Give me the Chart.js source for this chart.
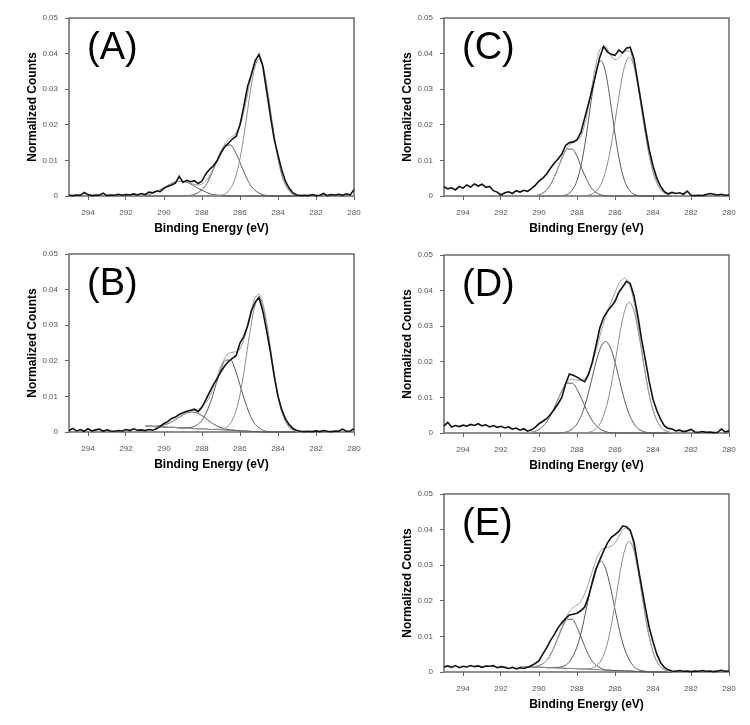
<!DOCTYPE html>
<html>
<head>
<meta charset="utf-8">
<script src="https://cdn.jsdelivr.net/npm/chart.js@4.4.0/dist/chart.umd.min.js"></script>
<style>
  body { margin: 0; background: #fff; }
  #wrap { position: relative; width: 750px; height: 725px; }
  canvas { position: absolute; }
</style>
</head>
<body>
<div id="wrap">
  <canvas id="cA" width="375" height="238" style="left:0;top:0"></canvas>
  <canvas id="cB" width="375" height="238" style="left:0;top:236px"></canvas>
  <canvas id="cC" width="375" height="238" style="left:375px;top:0"></canvas>
  <canvas id="cD" width="375" height="238" style="left:375px;top:237px"></canvas>
  <canvas id="cE" width="375" height="238" style="left:375px;top:476px"></canvas>
</div>
<script>
// binding energy grid of the measured spectra (eV)
const rawEnergy = [
  295.0, 294.8, 294.6, 294.4, 294.2, 294.0, 293.8, 293.6, 293.4, 293.2,
  293.0, 292.8, 292.6, 292.4, 292.2, 292.0, 291.8, 291.6, 291.4, 291.2,
  291.0, 290.8, 290.6, 290.4, 290.2, 290.0, 289.8, 289.6, 289.4, 289.2,
  289.0, 288.8, 288.6, 288.4, 288.2, 288.0, 287.8, 287.6, 287.4, 287.2,
  287.0, 286.8, 286.6, 286.4, 286.2, 286.0, 285.8, 285.6, 285.4, 285.2,
  285.0, 284.8, 284.6, 284.4, 284.2, 284.0, 283.8, 283.6, 283.4, 283.2,
  283.0, 282.8, 282.6, 282.4, 282.2, 282.0, 281.8, 281.6, 281.4, 281.2,
  281.0, 280.8, 280.6, 280.4, 280.2, 280.0
];

// grid of the fitted components (eV)
const fitEnergy = [
  291.0, 290.75, 290.5, 290.25, 290.0, 289.75, 289.5, 289.25, 289.0, 288.75,
  288.5, 288.25, 288.0, 287.75, 287.5, 287.25, 287.0, 286.75, 286.5, 286.25,
  286.0, 285.75, 285.5, 285.25, 285.0, 284.75, 284.5, 284.25, 284.0, 283.75,
  283.5, 283.25, 283.0
];

const xTicks = [294, 292, 290, 288, 286, 284, 282, 280];
const yTicks = [0, 0.01, 0.02, 0.03, 0.04, 0.05];

// ---- (A)
const rawA = [
  0.0002, 0.0001, 0.0003, 0.0002, 0.0010, 0.0004, 0.0001, 0.0003, 0.0002, 0.0008,
  0.0001, 0.0003, 0.0002, 0.0005, 0.0002, 0.0004, 0.0003, 0.0006, 0.0003, 0.0007,
  0.0004, 0.0011, 0.0009, 0.0014, 0.0012, 0.0022, 0.0027, 0.0031, 0.0036, 0.0055,
  0.0038, 0.0044, 0.0040, 0.0043, 0.0035, 0.0042, 0.0062, 0.0075, 0.0085, 0.0099,
  0.0121, 0.0138, 0.0149, 0.0160, 0.0168, 0.0200, 0.0252, 0.0308, 0.0342, 0.0380,
  0.0398, 0.0365, 0.0295, 0.0225, 0.0160, 0.0115, 0.0072, 0.0040, 0.0021, 0.0008,
  0.0003, 0.0001, 0.0002, 0.0001, 0.0004, 0.0001, 0.0002, 0.0007, 0.0001, 0.0004,
  0.0003, 0.0005, 0.0002, 0.0006, 0.0003, 0.0018
];
const fitA1 = [0, 0, 0, 0, 0, 0, 0, 0, 0, 0, 0, 0, 0, 0, 0,
  0.0001, 0.0002, 0.0007, 0.0021, 0.0050, 0.0105, 0.0185, 0.0278, 0.0355, 0.0385,
  0.0355, 0.0278, 0.0185, 0.0105, 0.0050, 0.0021, 0.0007, 0.0002];
const fitA2 = [0, 0, 0, 0, 0, 0, 0, 0, 0,
  0.0001, 0.0003, 0.0008, 0.0018, 0.0035, 0.0062, 0.0094, 0.0124, 0.0143, 0.0143,
  0.0124, 0.0094, 0.0062, 0.0035, 0.0018, 0.0008, 0.0003, 0.0001,
  0, 0, 0, 0, 0, 0];
const fitA3 = [0.0003, 0.0005, 0.0010, 0.0016, 0.0023, 0.0031, 0.0038, 0.0041, 0.0041,
  0.0038, 0.0031, 0.0023, 0.0016, 0.0010, 0.0005, 0.0003, 0.0001,
  0, 0, 0, 0, 0, 0, 0, 0, 0, 0, 0, 0, 0, 0, 0, 0];

// ---- (B)
const rawB = [
  0.0004, 0.0010, 0.0003, 0.0007, 0.0002, 0.0009, 0.0003, 0.0006, 0.0008, 0.0002,
  0.0006, 0.0003, 0.0002, 0.0004, 0.0003, 0.0007, 0.0004, 0.0009, 0.0005, 0.0006,
  0.0004, 0.0007, 0.0005, 0.0009, 0.0016, 0.0024, 0.0029, 0.0038, 0.0042, 0.0049,
  0.0054, 0.0058, 0.0061, 0.0064, 0.0057, 0.0070, 0.0090, 0.0112, 0.0133, 0.0150,
  0.0170, 0.0186, 0.0198, 0.0207, 0.0215, 0.0250, 0.0268, 0.0298, 0.0340, 0.0365,
  0.0378, 0.0340, 0.0285, 0.0225, 0.0157, 0.0100, 0.0062, 0.0036, 0.0020, 0.0009,
  0.0004, 0.0002, 0.0001, 0.0002, 0.0001, 0.0003, 0.0001, 0.0004, 0.0002, 0.0001,
  0.0003, 0.0002, 0.0008, 0.0002, 0.0003, 0.0009
];
const fitB1 = [0, 0, 0, 0, 0, 0, 0, 0, 0, 0, 0, 0, 0, 0, 0,
  0.0001, 0.0002, 0.0007, 0.0020, 0.0049, 0.0102, 0.0180, 0.0271, 0.0346, 0.0375,
  0.0346, 0.0271, 0.0180, 0.0102, 0.0049, 0.0020, 0.0007, 0.0002];
const fitB2 = [0, 0, 0, 0, 0, 0, 0, 0, 0,
  0.0001, 0.0004, 0.0011, 0.0024, 0.0049, 0.0085, 0.0129, 0.0171, 0.0197, 0.0197,
  0.0171, 0.0129, 0.0085, 0.0049, 0.0024, 0.0011, 0.0004, 0.0001,
  0, 0, 0, 0, 0, 0];
const fitB3 = [0, 0.0001, 0.0001, 0.0003, 0.0006, 0.0011, 0.0019, 0.0028, 0.0037, 0.0044,
  0.0046, 0.0044, 0.0037, 0.0028, 0.0019, 0.0011, 0.0006, 0.0003, 0.0001, 0.0001,
  0, 0, 0, 0, 0, 0, 0, 0, 0, 0, 0, 0, 0];
const baseB = [0.0016, 0.0016, 0.0015, 0.0015, 0.0014, 0.0013, 0.0013, 0.0012, 0.0011, 0.0011,
  0.0010, 0.0009, 0.0009, 0.0008, 0.0007, 0.0007, 0.0006, 0.0005, 0.0005, 0.0004,
  0.0003, 0.0003, 0.0002, 0.0001, 0.0001, 0, 0, 0, 0, 0, 0, 0, 0];

// ---- (C)
const rawC = [
  0.0026, 0.0020, 0.0023, 0.0017, 0.0027, 0.0022, 0.0031, 0.0025, 0.0034, 0.0028,
  0.0033, 0.0024, 0.0027, 0.0015, 0.0011, 0.0003, 0.0009, 0.0012, 0.0007, 0.0015,
  0.0011, 0.0016, 0.0013, 0.0021, 0.0030, 0.0042, 0.0050, 0.0062, 0.0078, 0.0092,
  0.0104, 0.0118, 0.0142, 0.0150, 0.0152, 0.0158, 0.0178, 0.0218, 0.0258, 0.0300,
  0.0345, 0.0390, 0.0420, 0.0405, 0.0398, 0.0395, 0.0410, 0.0402, 0.0415, 0.0418,
  0.0385, 0.0320, 0.0255, 0.0190, 0.0130, 0.0085, 0.0050, 0.0027, 0.0012, 0.0006,
  0.0010, 0.0007, 0.0009, 0.0005, 0.0014, 0.0002, 0.0001, 0.0002, 0.0001, 0.0004,
  0.0007, 0.0005, 0.0003, 0.0005, 0.0002, 0.0003
];
const fitC1 = [0, 0, 0, 0, 0, 0, 0, 0, 0, 0, 0, 0, 0, 0,
  0.0001, 0.0005, 0.0013, 0.0032, 0.0069, 0.0128, 0.0209, 0.0295, 0.0364, 0.0390,
  0.0364, 0.0295, 0.0209, 0.0128, 0.0069, 0.0032, 0.0013, 0.0005, 0.0001];
const fitC2 = [0, 0, 0, 0, 0, 0, 0, 0, 0,
  0.0001, 0.0005, 0.0017, 0.0043, 0.0095, 0.0174, 0.0269, 0.0348, 0.0380, 0.0348,
  0.0269, 0.0174, 0.0095, 0.0043, 0.0017, 0.0005, 0.0001,
  0, 0, 0, 0, 0, 0, 0];
const fitC3 = [0, 0, 0,
  0.0001, 0.0003, 0.0010, 0.0023, 0.0047, 0.0078, 0.0111, 0.0132, 0.0132, 0.0111,
  0.0078, 0.0047, 0.0023, 0.0010, 0.0003, 0.0001,
  0, 0, 0, 0, 0, 0, 0, 0, 0, 0, 0, 0, 0, 0];

// ---- (D)
const rawD = [
  0.0020, 0.0030, 0.0017, 0.0021, 0.0018, 0.0022, 0.0019, 0.0024, 0.0021, 0.0026,
  0.0020, 0.0023, 0.0017, 0.0021, 0.0016, 0.0019, 0.0014, 0.0017, 0.0011, 0.0014,
  0.0008, 0.0012, 0.0005, 0.0009, 0.0016, 0.0026, 0.0033, 0.0040, 0.0052, 0.0066,
  0.0082, 0.0100, 0.0138, 0.0166, 0.0162, 0.0157, 0.0150, 0.0144, 0.0163, 0.0198,
  0.0245, 0.0295, 0.0325, 0.0342, 0.0355, 0.0370, 0.0395, 0.0410, 0.0426, 0.0420,
  0.0385, 0.0330, 0.0262, 0.0205, 0.0145, 0.0095, 0.0063, 0.0038, 0.0020, 0.0013,
  0.0011, 0.0006, 0.0008, 0.0004, 0.0006, 0.0010, 0.0003, 0.0002, 0.0004, 0.0002,
  0.0003, 0.0001, 0.0002, 0.0011, 0.0003, 0.0006
];
const fitD1 = [0, 0, 0, 0, 0, 0, 0, 0, 0, 0, 0, 0, 0, 0,
  0.0001, 0.0004, 0.0012, 0.0030, 0.0065, 0.0120, 0.0196, 0.0278, 0.0342, 0.0367,
  0.0342, 0.0278, 0.0196, 0.0120, 0.0065, 0.0030, 0.0012, 0.0004, 0.0001];
const fitD2 = [0, 0, 0, 0, 0, 0, 0, 0, 0,
  0.0001, 0.0004, 0.0011, 0.0026, 0.0052, 0.0093, 0.0145, 0.0199, 0.0241, 0.0257,
  0.0241, 0.0199, 0.0145, 0.0093, 0.0052, 0.0026, 0.0011, 0.0004, 0.0001,
  0, 0, 0, 0, 0];
const fitD3 = [0, 0,
  0.0001, 0.0004, 0.0010, 0.0021, 0.0039, 0.0065, 0.0095, 0.0123, 0.0140, 0.0140,
  0.0123, 0.0095, 0.0065, 0.0039, 0.0021, 0.0010, 0.0004, 0.0001,
  0, 0, 0, 0, 0, 0, 0, 0, 0, 0, 0, 0, 0];

// ---- (E)
const rawE = [
  0.0014, 0.0017, 0.0013, 0.0018, 0.0012, 0.0016, 0.0014, 0.0018, 0.0015, 0.0017,
  0.0013, 0.0017, 0.0016, 0.0018, 0.0012, 0.0015, 0.0013, 0.0010, 0.0013, 0.0009,
  0.0012, 0.0010, 0.0013, 0.0018, 0.0024, 0.0032, 0.0050, 0.0068, 0.0088, 0.0105,
  0.0124, 0.0138, 0.0150, 0.0160, 0.0162, 0.0165, 0.0172, 0.0182, 0.0211, 0.0250,
  0.0288, 0.0315, 0.0340, 0.0362, 0.0378, 0.0386, 0.0395, 0.0410, 0.0408, 0.0398,
  0.0365, 0.0300, 0.0240, 0.0180, 0.0125, 0.0085, 0.0050, 0.0026, 0.0013, 0.0006,
  0.0003, 0.0002, 0.0004, 0.0002, 0.0003, 0.0001, 0.0003, 0.0002, 0.0004, 0.0002,
  0.0003, 0.0001, 0.0003, 0.0005, 0.0002, 0.0003
];
const fitE1 = [0, 0, 0, 0, 0, 0, 0, 0, 0, 0, 0, 0, 0, 0,
  0.0001, 0.0003, 0.0010, 0.0025, 0.0057, 0.0111, 0.0187, 0.0271, 0.0338, 0.0364,
  0.0338, 0.0271, 0.0187, 0.0111, 0.0057, 0.0025, 0.0010, 0.0003, 0.0001];
const fitE2 = [0, 0, 0, 0, 0, 0, 0,
  0.0001, 0.0002, 0.0005, 0.0013, 0.0031, 0.0062, 0.0110, 0.0172, 0.0236, 0.0286,
  0.0305, 0.0286, 0.0236, 0.0172, 0.0110, 0.0062, 0.0031, 0.0013, 0.0005, 0.0002,
  0.0001, 0, 0, 0, 0, 0];
const fitE3 = [0, 0, 0,
  0.0001, 0.0005, 0.0012, 0.0027, 0.0052, 0.0085, 0.0117, 0.0138, 0.0138, 0.0117,
  0.0085, 0.0052, 0.0027, 0.0012, 0.0005, 0.0001,
  0, 0, 0, 0, 0, 0, 0, 0, 0, 0, 0, 0, 0, 0];
const baseE = [0.0015, 0.0015, 0.0014, 0.0014, 0.0013, 0.0013, 0.0012, 0.0012, 0.0011, 0.0011,
  0.0010, 0.0010, 0.0009, 0.0008, 0.0008, 0.0007, 0.0007, 0.0006, 0.0005, 0.0005,
  0.0004, 0.0004, 0.0003, 0.0003, 0.0002, 0.0001, 0.0001, 0, 0, 0, 0, 0, 0];

const panels = [
  { canvas: 'cA', label: '(A)', raw: rawA, comps: [fitA1, fitA2, fitA3], base: null },
  { canvas: 'cB', label: '(B)', raw: rawB, comps: [fitB1, fitB2, fitB3], base: baseB },
  { canvas: 'cC', label: '(C)', raw: rawC, comps: [fitC1, fitC2, fitC3], base: null },
  { canvas: 'cD', label: '(D)', raw: rawD, comps: [fitD1, fitD2, fitD3], base: null },
  { canvas: 'cE', label: '(E)', raw: rawE, comps: [fitE1, fitE2, fitE3], base: baseE }
];

const FONT = '"Liberation Sans", Arial, sans-serif';
const compColors = ['#8c8c8c', '#5a5a5a', '#5a5a5a'];

// frame around the plot area + the big panel letter
const panelDeco = {
  id: 'panelDeco',
  beforeDatasetsDraw(chart) {
    const { ctx, chartArea: a } = chart;
    ctx.save();
    ctx.strokeStyle = '#6a6a6a';
    ctx.lineWidth = 1.5;
    ctx.strokeRect(a.left, a.top, a.right - a.left, a.bottom - a.top);
    ctx.restore();
  },
  afterDraw(chart, args, opts) {
    const { ctx, chartArea: a } = chart;
    ctx.save();
    ctx.fillStyle = '#000';
    ctx.font = '38px ' + FONT;
    ctx.textBaseline = 'middle';
    ctx.fillText(opts.label, a.left + 18, a.top + 31);
    ctx.restore();
  }
};

const pts = (xs, ys) => xs.map((x, i) => ({ x, y: ys[i] }));

panels.forEach(p => {
  const base = p.base;
  const b = i => (base ? base[i] : 0);
  const envelope = fitEnergy.map((x, i) => ({ x, y: b(i) + p.comps.reduce((s, c) => s + c[i], 0) }));

  const datasets = [
    { data: pts(rawEnergy, p.raw), borderColor: '#111', borderWidth: 1.6, order: 0 },
    { data: envelope, borderColor: '#a0a0a0', borderWidth: 1, order: 1, cubicInterpolationMode: 'monotone' }
  ];
  p.comps.forEach((c, k) => {
    datasets.push({
      data: fitEnergy.map((x, i) => ({ x, y: c[i] + b(i) })),
      borderColor: compColors[k], borderWidth: 1, order: 2, cubicInterpolationMode: 'monotone'
    });
  });
  if (base) {
    datasets.push({ data: pts(fitEnergy, base), borderColor: '#808080', borderWidth: 1, order: 3 });
  }

  new Chart(document.getElementById(p.canvas), {
    type: 'line',
    data: { datasets },
    options: {
      responsive: false,
      animation: false,
      devicePixelRatio: 1,
      layout: { padding: { top: 18, right: 21, left: 0, bottom: 0 } },
      elements: { point: { radius: 0 }, line: { tension: 0 } },
      datasets: { line: { clip: false } },
      plugins: {
        legend: { display: false },
        tooltip: { enabled: false },
        panelDeco: { label: p.label }
      },
      scales: {
        x: {
          type: 'linear', min: 280, max: 295, reverse: true,
          afterFit: s => { s.height = 42; },
          afterBuildTicks: s => { s.ticks = xTicks.map(v => ({ value: v })); },
          grid: { drawOnChartArea: false, drawTicks: true, tickLength: 4, color: '#666' },
          border: { display: false },
          ticks: { padding: 8, color: '#555', font: { size: 8, family: FONT }, maxRotation: 0, autoSkip: false },
          title: { display: true, text: 'Binding Energy (eV)', color: '#000',
                   font: { size: 12, weight: 'bold', family: FONT }, padding: { top: 0, bottom: 2 } }
        },
        y: {
          min: 0, max: 0.05,
          afterFit: s => { s.width = 69; },
          afterBuildTicks: s => { s.ticks = yTicks.map(v => ({ value: v })); },
          grid: { drawOnChartArea: false, drawTicks: true, tickLength: 4, color: '#666' },
          border: { display: false },
          ticks: { padding: 7, color: '#555', font: { size: 8, family: FONT },
                   callback: v => (v === 0 ? '0' : v.toFixed(2)) },
          title: { display: true, text: 'Normalized Counts', color: '#000',
                   font: { size: 12, weight: 'bold', family: FONT }, padding: { top: 25, bottom: 0 } }
        }
      }
    },
    plugins: [panelDeco]
  });
});
</script>
</body>
</html>
